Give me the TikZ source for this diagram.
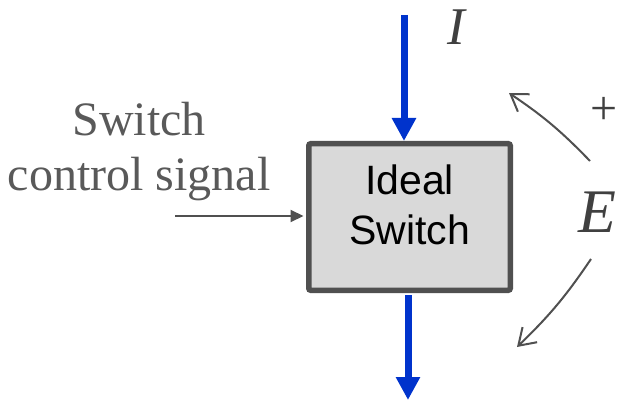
\documentclass[tikz,border=0pt]{standalone}
\usepackage{fontspec}
\setmainfont{Liberation Serif}
\newfontfamily\boxfont{Liberation Sans}
\usepackage{xcolor}
\definecolor{switchfill}{RGB}{217,217,217}
\definecolor{edgegray}{RGB}{80,80,80}
\definecolor{labelgray}{RGB}{89,89,89}
\definecolor{symgray}{RGB}{64,64,64}
\definecolor{currentblue}{RGB}{0,51,204}
\usetikzlibrary{arrows.meta,positioning}

\begin{document}
\begin{tikzpicture}[x=1pt, y=-1pt,
    switchbox/.style={rectangle, rounded corners=2pt, draw=edgegray, line width=5.5pt, fill=switchfill, minimum width=201.5pt, minimum height=146.5pt, inner sep=0pt, align=center, text depth=24pt, font=\boxfont\fontsize{41}{50}\selectfont},
    current/.style={-{Triangle[width=23pt, length=23pt]}, line width=7pt, draw=currentblue},
    ctrl/.style={-{Triangle[width=12pt, length=13pt]}, line width=2pt, draw=edgegray},
    polarity/.style={-{Straight Barb[length=16pt, width=21pt]}, line width=2pt, draw=edgegray},
    sym/.style={inner sep=0pt, text=symgray},
]
\useasboundingbox (0,0) rectangle (619,401);

% Switch block
\node[switchbox] (sw) at (409.5,217) {Ideal\\Switch};

% Current through the switch
\coordinate (iin) at (404,15);
\coordinate (iout) at (408,400);
\draw[current] (iin) -- (iin |- sw.north);
\draw[current, shorten <=2pt] (sw.south -| iout) -- (iout);
\node[sym, font=\itshape\fontsize{53}{53}\selectfont] (cur) at (456,27.5) {I};

% Control input
\node[text=labelgray, align=center, font=\fontsize{48}{55}\selectfont] (ctl) at (139,151.5) {Switch\\control signal};
\coordinate (cin) at (175,216);
\draw[ctrl, shorten >=2.5pt] (cin) -- (cin -| sw.west);

% Voltage across the switch
\node[sym, font=\itshape\fontsize{62}{62}\selectfont] (volt) at (597,212.5) {E};
\node[sym, font=\fontsize{48}{48}\selectfont] (plus) at (604.5,110.5) {+};
\coordinate (pup0) at (590,161);
\coordinate (pup1) at (509,93);
\coordinate (pdn0) at (591,259);
\coordinate (pdn1) at (517,347);
\draw[polarity] (pup0) to[bend right=6] (pup1);
\draw[polarity] (pdn0) to[bend left=6] (pdn1);

\end{tikzpicture}
\end{document}
